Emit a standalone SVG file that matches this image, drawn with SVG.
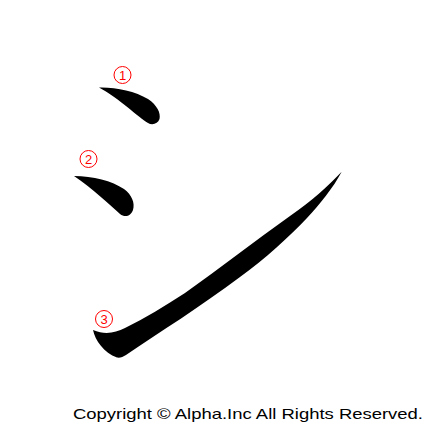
<svg xmlns="http://www.w3.org/2000/svg" width="434" height="427" viewBox="0 0 434 427">
<style>
.stroke{fill:#000}
.num circle{fill:none;stroke:#ff0000;stroke-width:1}
.num text{font-family:"Liberation Sans",Arial,sans-serif;font-size:13px;fill:#ff0000;text-anchor:middle}
.copy{font-family:"Liberation Sans",Arial,sans-serif;font-size:14.5px;fill:#000}
</style>
<rect width="434" height="427" fill="#fff"/>
<g id="stroke1">
<path class="stroke" d="M99,87.5 C115,87 135,91 148,99 C157,105 161,113 159.5,119 C158,124 152,125.5 148,123 C138,117 120,99 99,87.5 Z"/>
</g>
<g id="stroke2">
<path class="stroke" d="M74,176 C93,176 112,181 124,189 C132,195 135,203 133,210 C131,216 125,218 120,214 C110,205 92,188 74,176 Z"/>
</g>
<g id="stroke3">
<path class="stroke" d="M341.7,171.7 C330,184 312,201 290,216 C255,241 220,268 185,293 C165,306 145,318 125,328 C115,333 105,335 93,330 C95,340 104,353 117,357.5 C120,358 123,357 126,355 C160,332 200,307 240,277 C265,259 290,236 307,218 C320,204 333,188 341.7,171.7 Z"/>
</g>
<g id="num1" class="num"><circle cx="122.5" cy="75" r="8.5"/><text x="122.5" y="79.5">1</text></g>
<g id="num2" class="num"><circle cx="88.5" cy="159" r="8.5"/><text x="88.5" y="163.5">2</text></g>
<g id="num3" class="num"><circle cx="104" cy="319" r="8.5"/><text x="104" y="323.5">3</text></g>
<text class="copy" x="73" y="419" textLength="350" lengthAdjust="spacingAndGlyphs">Copyright © Alpha.Inc All Rights Reserved.</text>
</svg>
